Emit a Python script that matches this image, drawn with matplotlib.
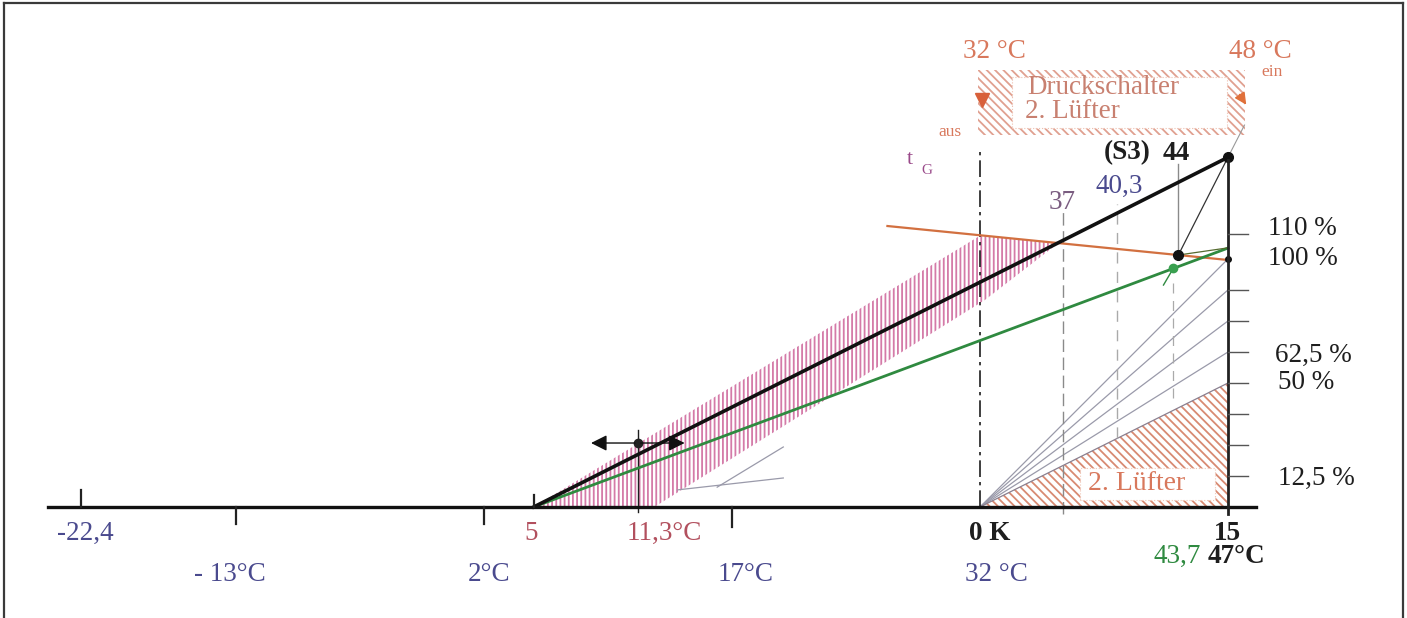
import numpy as np
import matplotlib
matplotlib.use("Agg")
import matplotlib.pyplot as plt
from matplotlib.patches import Polygon, Rectangle

plt.rcParams['font.family'] = ['Liberation Serif', 'DejaVu Serif']
plt.rcParams['hatch.linewidth'] = 1.3

# ---- data (x: outdoor temperature in degC, 0 K = 32 degC; y: capacity in %) ----
t_ref = 32.0          # 0 K
t_max = 47.0          # 15 K
t_low = -22.4
t_design = 11.3

black_line_t = [5.0, 47.0]
black_line_p = [0.0, 141.0]
green_line_t = [5.0, 47.0]
green_line_p = [0.0, 104.4]
orange_line_t = [26.4, 47.0]
orange_line_p = [113.3, 99.6]

band_t = [5.0, 32.0, 36.7, 32.3, 12.3]
band_p = [0.0, 109.4, 106.2, 83.5, 0.0]

fan_p = [100.0, 87.5, 75.0, 62.5]          # gray lines from 0 K to 15 K
luefter_p = 50.0                            # 2nd fan triangle
side_lines_t0 = [16.1, 13.7]
side_lines_t1 = [20.1, 20.1]
side_lines_p0 = [8.0, 6.9]
side_lines_p1 = [24.2, 11.7]

right_ticks = [110, 87.5, 75, 62.5, 50, 37.5, 25, 12.5]
right_labels = ["110 %", "100 %", "62,5 %", "50 %", "12,5 %"]
right_label_p = [112.1, 100.4, 61.3, 50.4, 11.7]
right_label_t = [49.4, 49.4, 49.85, 50.0, 50.0]

s3_t, s3_p = 47.0, 141.0
p44_t, p44_p = 44.0, 101.6
green_pt_t, green_pt_p = 43.7, 96.3
design_pt_p = 25.8
switch_off, switch_on = 32.0, 48.0

# ---- scale of the reference ----
px_per_k = 16.53
px_per_pct = 2.48
W, H = 1407, 618
x0, y0 = 980, 507

fig = plt.figure(figsize=(W / 100, H / 100), dpi=100)
ax = fig.add_axes([0, 0, 1, 1])
ax.set_xlim(t_ref - x0 / px_per_k, t_ref + (W - x0) / px_per_k)
ax.set_ylim((y0 - H) / px_per_pct, y0 / px_per_pct)
ax.axis('off')

navy = "#4a4a8e"
maroon = "#b2505e"
orange = "#d8785c"
dark = "#1e1e1e"
green = "#2f8a40"
gray = "#9a9aaa"
fs = 19.5

# frame
for xs, ys in [([4, 1403], [3, 3]), ([4, 4], [3, 618]), ([1403, 1403], [3, 618])]:
    fig.add_artist(plt.Line2D([x / W for x in xs], [1 - y / H for y in ys],
                              color="#3a3a3a", lw=1.6))

# magenta hatched band
ax.add_patch(Polygon(np.column_stack([band_t, band_p]), closed=True, facecolor='none',
                     edgecolor="#d47aa8", hatch='||||', lw=0))

# 2nd fan hatched triangle
ax.add_patch(Polygon([[t_ref, 0], [t_max, luefter_p], [t_max, 0]], closed=True,
                     facecolor='none', edgecolor="#d88a72", hatch='\\\\\\\\', lw=0))
ax.add_patch(Rectangle((38.05, 2.8), 8.15, 12.9, facecolor='white',
                       edgecolor="#f0c8b8", lw=0.8, ls=':'))
ax.text(41.5, 9.3, "2. Lüfter", color=orange, fontsize=20, ha='center', va='center')

# fan lines
for p in fan_p:
    ax.plot([t_ref, t_max], [0, p], color=gray, lw=0.9)
ax.plot([t_ref, t_max], [0, luefter_p], color="#8a8090", lw=0.9)
for a, b, c, d in zip(side_lines_t0, side_lines_t1, side_lines_p0, side_lines_p1):
    ax.plot([a, b], [c, d], color=gray, lw=0.9)

# vertical guide lines
ax.plot([t_ref, t_ref], [0, 145], color=dark, lw=1.2, ls=(0, (10, 3, 2, 3)))
ax.plot([37.0, 37.0], [-3, 120], color="#8a8a8a", lw=1.0, ls=(0, (9, 4)))
ax.plot([40.3, 40.3], [28, 122], color="#aaaaaa", lw=1.0, ls=(0, (8, 6)))
ax.plot([43.7, 43.7], [44, 92], color="#aaaaaa", lw=0.9, ls=(0, (8, 6)))
ax.plot([44.0, 44.0], [102, 138.5], color="#8a8a8a", lw=1.0)
ax.plot([t_design, t_design], [-2, 31], color=dark, lw=1.0)

# main characteristic lines
ax.plot(orange_line_t, orange_line_p, color="#d27040", lw=1.6)
ax.plot(green_line_t, green_line_p, color=green, lw=2.0)
ax.plot(black_line_t, black_line_p, color="#111111", lw=2.6)
ax.plot([p44_t, s3_t], [p44_p, s3_p], color="#333333", lw=0.9)
ax.plot([p44_t, t_max], [p44_p, 104.5], color="#556b2f", lw=0.9)
ax.plot([s3_t, 48.0], [s3_p, 154], color="#999999", lw=0.8)
ax.plot([43.1, 43.7], [89.5, 96.3], color=green, lw=1.0)

# points
ax.plot([s3_t, p44_t], [s3_p, p44_p], 'o', color="#111111", ms=7)
ax.plot([t_max], [100], 'o', color="#111111", ms=4)
ax.plot([green_pt_t], [green_pt_p], 'o', color="#3aa050", ms=6)
ax.plot([t_design], [design_pt_p], 'o', color="#222222", ms=6)

# design point arrows
ax.annotate("", xy=(8.3, design_pt_p), xytext=(t_design, design_pt_p),
            arrowprops=dict(arrowstyle='-|>', color="#111111", lw=1.0, mutation_scale=24))
ax.annotate("", xy=(14.3, design_pt_p), xytext=(t_design, design_pt_p),
            arrowprops=dict(arrowstyle='-|>', color="#111111", lw=1.0, mutation_scale=24))

# horizontal axis
ax.plot([t_ref - (x0 - 48) / px_per_k, t_ref + (1256 - x0) / px_per_k], [0, 0],
        color="#111111", lw=2.4)
for t, a, b in [(t_low, 0, 7), (-13, -7, 0), (2, -7, 0), (5, 0, 5), (17, -8, 0)]:
    ax.plot([t, t], [a, b], color="#222222", lw=1.6)

# right axis
ax.plot([t_max, t_max], [-3, 140], color="#222222", lw=2.0)
for p in right_ticks:
    ax.plot([t_max, t_max + 1.2], [p, p], color="#555555", lw=1.0)
for lab, t, p in zip(right_labels, right_label_t, right_label_p):
    ax.text(t, p, lab, fontsize=fs, color=dark, ha='left', va='center')

# axis labels
lbl = dict(fontsize=fs, ha='center', va='center')
row1, row2, row3 = -10.5, -19.8, -27.4
ax.text(-22.1, row1, "-22,4", color=navy, **lbl)
ax.text(-13.4, row3, "- 13°C", color=navy, **lbl)
ax.text(2.3, row3, "2°C", color=navy, **lbl)
ax.text(4.84, row1, "5", color=maroon, **lbl)
ax.text(12.9, row1, "11,3°C", color=maroon, **lbl)
ax.text(17.8, row3, "17°C", color=navy, **lbl)
ax.text(32.6, row1, "0 K", color=dark, fontweight='bold', **lbl)
ax.text(33.0, row3, "32 °C", color=navy, **lbl)
ax.text(46.94, row1, "15", color=dark, fontweight='bold', **lbl)
ax.text(43.9, row2, "43,7", color=green, **lbl)
ax.text(47.5, row2, "47°C", color=dark, fontweight='bold', **lbl)

ax.text(36.96, 122.6, "37", color="#7a5c80", **lbl)
ax.text(40.4, 129.4, "40,3", color=navy, **lbl)
ax.text(40.9, 142.7, "(S3)", color=dark, fontweight='bold', **lbl)
ax.text(43.86, 142.7, "44", color=dark, fontweight='bold', **lbl)
ax.text(27.77, 140.3, "t", color="#9a4a8a", fontsize=16, ha='center', va='center')
ax.text(28.8, 135.5, "G", color="#9a4a8a", fontsize=11, ha='center', va='center')

# pressure switch box
ax.add_patch(Rectangle((31.88, 150.0), 48.03 - 31.88, 176.2 - 150.0,
                       facecolor='none', edgecolor="#e0a090", hatch='\\\\\\\\', lw=0))
ax.add_patch(Rectangle((33.94, 152.8), 46.94 - 33.94, 173.4 - 152.8, facecolor='white',
                       edgecolor="#eec0b0", lw=0.8, ls=':'))
ax.text(34.84, 169.0, "Druckschalter", color="#c88070", fontsize=fs, ha='left', va='center')
ax.text(34.7, 159.3, "2. Lüfter", color="#c88070", fontsize=fs, ha='left', va='center')
ax.plot([switch_off + 0.1], [164.1], 'v', color="#d8603a", ms=10)
ax.annotate("", xy=(switch_on + 0.2, 161.3), xytext=(47.6, 167.3),
            arrowprops=dict(arrowstyle='-|>', color="#e0703a", lw=1.0, mutation_scale=18))
ax.text(32.9, 183.5, "32 °C", color=orange, **lbl)
ax.text(48.94, 183.5, "48 °C", color=orange, **lbl)
ax.text(49.66, 175.4, "ein", color=orange, fontsize=12.5, ha='center', va='center')
ax.text(30.19, 151.2, "aus", color=orange, fontsize=12.5, ha='center', va='center')

fig.savefig("out.png", dpi=100)
